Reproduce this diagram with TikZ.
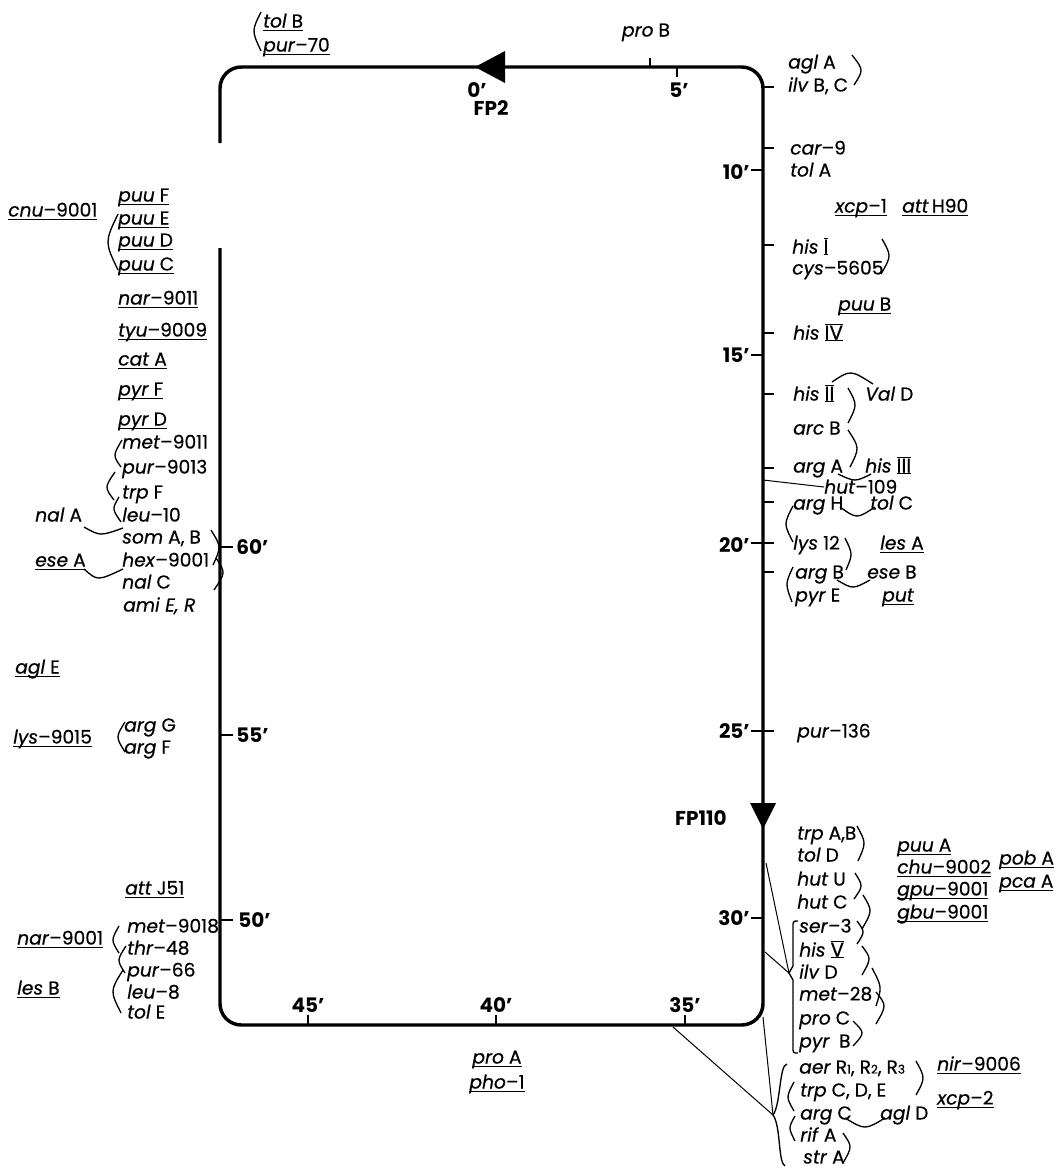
\documentclass[tikz,border=0pt]{standalone}
\usepackage{fontspec}
\setmainfont{Poppins}[UprightFeatures={FakeBold=0.5},ItalicFeatures={FakeBold=0.5}]
\newcommand\fs{\fontsize{14}{16}\selectfont}
\newcommand\g[1]{\textit{#1}}
\newcommand\ul[1]{\setbox0\hbox{#1}\rlap{\rule[-2.6pt]{\wd0}{0.85pt}}\box0}
\newcommand\rn[1]{\setbox2\hbox{\upshape\fontsize{15}{16}\selectfont #1}\rlap{\rule[-0.9pt]{\wd2}{0.9pt}}\rlap{\rule[\dimexpr\ht2+0.1pt]{\wd2}{0.9pt}}\box2}
\newcommand\sd[1]{{\fontsize{9}{10}\selectfont #1}}
\newcommand\brk[6]{\pgfmathsetmacro\bkx{(8*#3-#1-#5)/6}\pgfmathsetmacro\bky{(8*#4-#2-#6)/6}\draw[br] (#1,#2) .. controls (\bkx,\bky) .. (#5,#6);}
\tikzset{
 lb/.style={anchor=west, inner sep=0pt, text height=9.8pt, text depth=0pt, font=\fs},
 lc/.style={lb, anchor=center},
 tk/.style={font=\fontsize{15}{16}\selectfont\bfseries, inner sep=0pt, text height=10.5pt, text depth=0pt},
 frame/.style={line width=2.6pt},
 tick/.style={line width=1.3pt},
 br/.style={line width=1pt},
 ln/.style={line width=0.75pt},
}
\begin{document}
\begin{tikzpicture}[x=0.75pt,y=-0.75pt]
\useasboundingbox (0,0) rectangle (1057,1171);
% frame
\draw[frame, rounded corners=16pt] (220,143) -- (220,67) -- (763,67) -- (763,1025) -- (220,1025) -- (220,248);
\fill (475,67) -- (505,51) -- (505,83) -- cycle;
\fill (763,829) -- (750,803) -- (776,803) -- cycle;
% ticks
\draw[tick] (650,67) -- (650,58);
\draw[tick] (677,67) -- (677,77);
\foreach \y in {87,148,245,333,394,468,502,543,572,731} \draw[tick] (763,\y) -- (774,\y);
\foreach \y in {170,355,543,731,918} \draw[tick] (751,\y) -- (763,\y);
\foreach \y in {547,735,920} \draw[tick] (220,\y) -- (233,\y);
\foreach \x in {308,496,685} \draw[tick] (\x,1025) -- (\x,1015);
% tick labels
\node[tk] (t0) at (477,90) {0'};
\node[tk] (fp2) at (491,108) {FP2};
\node[tk] (t5) at (679,90) {5'};
\node[tk,anchor=east] (t10) at (750,172) {10'};
\node[tk,anchor=east] (t15) at (750,355) {15'};
\node[tk,anchor=east] (t20) at (750,545) {20'};
\node[tk,anchor=east] (t25) at (750,731) {25'};
\node[tk,anchor=east] (t30) at (750,918) {30'};
\node[tk,anchor=east] (fp110) at (727,818) {FP110};
\node[tk,anchor=west] (t60) at (236,547) {60'};
\node[tk,anchor=west] (t55) at (236,735) {55'};
\node[tk,anchor=west] (t50) at (238,920) {50'};
\node[tk] (t45) at (308,1005) {45'};
\node[tk] (t40) at (496,1005) {40'};
\node[tk] (t35) at (685,1005) {35'};
% top
\node[lb] (tolB) at (263,21) {\ul{\g{tol} B}};
\node[lb] (pur70) at (263,45) {\ul{\g{pur}–70}};
\brk{261}{12}{254}{31}{261}{51}
\node[lc] (proB) at (646,30) {\g{pro} B};
% right side
\node[lb] (aglA) at (788,62) {\g{agl} A};
\node[lb] (ilvBC) at (788,85) {\g{ilv} B, C};
\brk{852}{55}{861}{70}{854}{85}
\node[lb] (car9) at (790,148) {\g{car}–9};
\node[lb] (tolA) at (790,170) {\g{tol} A};
\node[lb] (xcp1) at (835,206) {\ul{\g{xcp}–1}};
\node[lb] (attH) at (902,206) {\ul{\g{att}\,H90}};
\node[lb] (hisI) at (792,247) {\g{his} \rn{I}};
\node[lb] (cys) at (792,268) {\g{cys}–5605};
\brk{882}{239}{889}{256}{881}{274}
\node[lb] (puuB) at (838,304) {\ul{\g{puu} B}};
\node[lb] (hisIV) at (793,333) {\g{his} \rn{IV}};
\node[lb] (hisII) at (793,394) {\g{his} \rn{II}};
\node[lb] (valD) at (865,394) {\g{Val} D};
\brk{832}{382}{851}{373}{873}{384}
\brk{848}{388}{855}{405}{848}{423}
\node[lb] (arcB) at (793,428) {\g{arc} B};
\brk{848}{430}{857}{448}{850}{467}
\node[lb] (argA) at (793,466) {\g{arg} A};
\node[lb] (hisIII) at (865,466) {\g{his} \rn{III}};
\brk{838}{474}{855}{480}{871}{474}
\node[lb] (h109) at (824,487) {\g{hut}–109};
\coordinate (ax1) at (763,480);
\draw[ln] (ax1) -- (h109.west);
\node[lb] (argH) at (793,503) {\g{arg} H};
\node[lb] (tolC) at (870,503) {\g{tol} C};
\brk{840}{507}{857}{516}{875}{507}
\brk{793}{506}{786}{524}{793}{542}
\node[lb] (lys12) at (793,543) {\g{lys} 12};
\node[lb] (lesA) at (880,543) {\ul{\g{les} A}};
\brk{845}{538}{851}{554}{846}{570}
\node[lb] (argB) at (795,572) {\g{arg} B};
\node[lb] (eseB) at (867,572) {\g{ese} B};
\brk{837}{580}{853}{587}{870}{580}
\brk{793}{567}{787}{584}{792}{602}
\node[lb] (pyrE) at (795,595) {\g{pyr} E};
\node[lb] (put) at (882,595) {\ul{\g{put}}};
\node[lb] (pur136) at (797,731) {\g{pur}–136};
% lower right group
\node[lb] (trpAB) at (797,833) {\g{trp} A,B};
\node[lb] (tolD) at (797,855) {\g{tol} D};
\node[lb] (hutU) at (797,879) {\g{hut} U};
\node[lb] (hutC) at (797,902) {\g{hut} C};
\node[lb] (ser3) at (799,926) {\g{ser}–3};
\node[lb] (hisV) at (799,950) {\g{his} \rn{V}};
\node[lb] (ilvD) at (799,972) {\g{ilv} D};
\node[lb] (met28) at (799,994) {\g{met}–28};
\node[lb] (proC) at (799,1018) {\g{pro} C};
\node[lb] (pyrB) at (799,1041) {\g{pyr}\enspace B};
\brk{857}{826}{864}{843}{858}{861}
\brk{855}{873}{861}{886}{854}{899}
\brk{863}{895}{870}{911}{862}{929}
\brk{857}{921}{863}{932}{857}{944}
\brk{862}{946}{869}{959}{862}{975}
\brk{872}{968}{880}{987}{876}{1006}
\brk{876}{992}{884}{1006}{876}{1024}
\brk{853}{1021}{862}{1033}{853}{1046}
\draw[br] (798,921) .. controls (793,921) .. (793,928) -- (793,966) -- (789,973) -- (793,980) -- (793,1047) .. controls (793,1053) .. (798,1053);
\coordinate (bp1) at (789,973);
\coordinate (ax2) at (766,863);
\coordinate (ax3) at (765,952);
\draw[ln] (ax2) -- (bp1);
\draw[ln] (ax3) -- (bp1);
\node[lb] (puuA) at (897,845) {\ul{\g{puu} A}};
\node[lb] (chu) at (897,867) {\ul{\g{chu}–9002}};
\node[lb] (gpu) at (897,889) {\ul{\g{gpu}–9001}};
\node[lb] (gbu) at (897,912) {\ul{\g{gbu}–9001}};
\node[lb] (pobA) at (999,858) {\ul{\g{pob} A}};
\node[lb] (pcaA) at (999,881) {\ul{\g{pca} A}};
% bottom right group
\coordinate (bp2) at (773,1115);
\coordinate (ax4) at (673,1027);
\coordinate (ax5) at (763,1017);
\draw[ln] (ax4) -- (bp2);
\draw[ln] (ax5) -- (bp2);
\draw[br] (787,1064) .. controls (779,1065) and (781,1104) .. (773,1115) .. controls (781,1126) and (778,1163) .. (785,1166);
\node[lb] (aer) at (799,1067) {\g{aer} R\sd{1}, R\sd{2}, R\sd{3}};
\node[lb] (trpCDE) at (800,1090) {\g{trp} C, D, E};
\node[lb] (argC) at (800,1113) {\g{arg} C};
\node[lb] (aglD) at (880,1113) {\g{agl} D};
\node[lb] (rifA) at (800,1135) {\g{rif} A};
\node[lb] (strA) at (803,1157) {\g{str} A};
\brk{916}{1061}{923}{1078}{916}{1095}
\brk{794}{1082}{788}{1097}{794}{1111}
\brk{795}{1116}{790}{1128}{795}{1141}
\brk{843}{1133}{850}{1147}{843}{1163}
\brk{845}{1118}{865}{1127}{885}{1118}
\node[lb] (nir) at (937,1064) {\ul{\g{nir}–9006}};
\node[lb] (xcp2) at (937,1098) {\ul{\g{xcp}–2}};
% bottom
\node[lc] (proA) at (497,1057) {\ul{\g{pro} A}};
\node[lc] (pho1) at (497,1082) {\ul{\g{pho}–1}};
% left side
\node[lb] (cnu) at (8,210) {\ul{\g{cnu}–9001}};
\node[lb] (puuF) at (118,195) {\ul{\g{puu} F}};
\node[lb] (puuE) at (118,218) {\ul{\g{puu} E}};
\node[lb] (puuD) at (118,240) {\ul{\g{puu} D}};
\node[lb] (puuC) at (118,264) {\ul{\g{puu} C}};
\brk{118}{214}{108}{242}{118}{270}
\node[lb] (nar9011) at (118,298) {\ul{\g{nar}–9011}};
\node[lb] (tyu) at (118,330) {\ul{\g{tyu}–9009}};
\node[lb] (catA) at (118,359) {\ul{\g{cat} A}};
\node[lb] (pyrF) at (118,389) {\ul{\g{pyr} F}};
\node[lb] (pyrD) at (118,419) {\ul{\g{pyr} D}};
\node[lb] (met9011) at (122,442) {\g{met}–9011};
\node[lb] (pur9013) at (122,467) {\g{pur}–9013};
\node[lb] (trpF) at (122,492) {\g{trp} F};
\node[lb] (leu10) at (122,515) {\g{leu}–10};
\brk{122}{440}{115}{455}{121}{467}
\brk{115}{472}{107}{487}{114}{500}
\brk{119}{497}{114}{509}{121}{522}
\node[lb] (nalA) at (35,515) {\g{nal} A};
\brk{84}{527}{101}{534}{123}{528}
\node[lb] (somAB) at (122,537) {\g{som} A, B};
\node[lb] (hex) at (122,560) {\g{hex}–9001};
\node[lb] (nalC) at (122,582) {\g{nal} C};
\node[lb] (amiER) at (123,605) {\g{ami E, R}};
\node[lb] (eseA) at (35,560) {\ul{\g{ese} A}};
\brk{84}{569}{99}{578}{123}{569}
\brk{211}{530}{219}{547}{213}{565}
\brk{216}{558}{223}{573}{214}{590}
\node[lb] (aglE) at (15,667) {\ul{\g{agl} E}};
\node[lb] (lys9015) at (13,737) {\ul{\g{lys}–9015}};
\node[lb] (argG) at (124,725) {\g{arg} G};
\node[lb] (argF) at (124,747) {\g{arg} F};
\brk{125}{722}{118}{737}{125}{752}
\node[lb] (attJ) at (125,888) {\ul{\g{att} J51}};
\node[lb] (met9018) at (127,926) {\g{met}–9018};
\node[lb] (thr48) at (127,948) {\g{thr}–48};
\node[lb] (pur66) at (127,970) {\g{pur}–66};
\node[lb] (leu8) at (127,992) {\g{leu}–8};
\node[lb] (tolE) at (127,1012) {\g{tol} E};
\node[lb] (nar9001) at (17,938) {\ul{\g{nar}–9001}};
\node[lb] (lesB) at (17,988) {\ul{\g{les} B}};
\brk{119}{926}{113}{940}{119}{953}
\brk{126}{946}{119}{960}{125}{973}
\brk{123}{970}{113}{991}{121}{1013}
\end{tikzpicture}
\end{document}
